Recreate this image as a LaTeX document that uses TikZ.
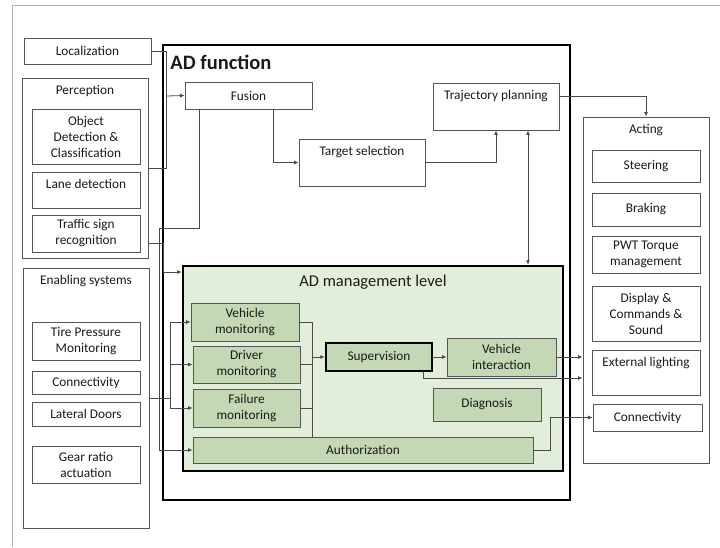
\documentclass[tikz,border=0pt]{standalone}
\usepackage{fontspec}
\setmainfont{Carlito}
\usepackage{tikz}
\usetikzlibrary{positioning}
\usetikzlibrary{calc,arrows.meta}
\definecolor{frame}{HTML}{B4B4B4}
\definecolor{edge}{HTML}{555555}
\definecolor{wire}{HTML}{4A4A4A}
\definecolor{mgmtbg}{HTML}{E2EEDA}
\definecolor{mgmtbox}{HTML}{C5D8B5}
\definecolor{ink}{HTML}{1A1A1A}
\tikzset{
  every node/.style={font=\fontsize{13.3}{16}\selectfont, text=ink},
  box/.style={shape=rectangle, draw=edge, line width=0.8pt, fill=white, align=center, inner sep=1pt},
  grp/.style={box, line width=0.9pt},
  gbox/.style={box, fill=mgmtbox, draw=edge},
  top/.style={label={[anchor=north, yshift=-4.5pt, align=center]north:#1}},
  line/.style={draw=wire, line width=0.8pt},
  arr/.style={line, -{Latex[length=4.5pt,width=4pt]}},
  arr2/.style={line, {Latex[length=4.5pt,width=4pt]}-{Latex[length=4.5pt,width=4pt]}}
}
\begin{document}
\begin{tikzpicture}[x=1pt,y=-1pt]
\useasboundingbox (0,0) rectangle (720,547);
\draw [frame, line width=1pt] (12,547) -- (12,5) -- (720,5);
\path
(366.5,272.5) node [shape=rectangle, draw=black, line width=1.6pt, minimum width=407, minimum height=455,
  label={[anchor=north west, xshift=6pt, yshift=-9pt, inner sep=2pt, font=\bfseries\fontsize{20.5}{24}\selectfont]north west:AD function}] (adf) {}
(87.5,51) node [box, minimum width=127, minimum height=26] (loc) {Localization}
(85,168) node [grp, minimum width=126, minimum height=180, top=Perception] (perc) {}
(86,136.5) node [box, minimum width=108, minimum height=55] (obj) {Object\\Detection \&\\Classification}
(86,190) node [box, minimum width=108, minimum height=36, top=Lane detection] (lane) {}
(86,233.5) node [box, minimum width=108, minimum height=37] (tsr) {Traffic sign\\recognition}
(86,398) node [grp, minimum width=126, minimum height=260, top=Enabling systems] (enab) {}
(86,341) node [box, minimum width=108, minimum height=38] (tire) {Tire Pressure\\Monitoring}
(86,382.5) node [box, minimum width=108, minimum height=23] (con1) {Connectivity}
(86,414) node [box, minimum width=108, minimum height=24] (door) {Lateral Doors}
(86,464.5) node [box, minimum width=108, minimum height=37] (gear) {Gear ratio\\actuation}
(248.5,95.5) node [box, minimum width=127, minimum height=27] (fus) {Fusion}
(362,162.5) node [box, minimum width=126, minimum height=47, top=Target selection] (tgt) {}
(496,106.5) node [box, minimum width=126, minimum height=47, top=Trajectory planning] (traj) {}
(646,290) node [grp, minimum width=126, minimum height=346, top=Acting] (act) {}
(646,166) node [box, minimum width=108, minimum height=32] (steer) {Steering}
(646,209.5) node [box, minimum width=108, minimum height=33] (brake) {Braking}
(646,254.5) node [box, minimum width=108, minimum height=37] (pwt) {PWT Torque\\management}
(646,313.5) node [box, minimum width=108, minimum height=55] (disp) {Display \&\\Commands \&\\Sound}
(646,372.5) node [box, minimum width=108, minimum height=45, top=External lighting] (light) {}
(647.5,417.5) node [box, minimum width=109, minimum height=27] (con2) {Connectivity};
\path
(373,368.5) node [shape=rectangle, draw=black, line width=2.4pt, fill=mgmtbg, minimum width=380, minimum height=205,
  label={[anchor=north, yshift=-7pt, font=\fontsize{16.5}{19}\selectfont]north:AD management level}] (mgmt) {}
(245,322) node [gbox, minimum width=108, minimum height=38] (vm) {Vehicle\\monitoring}
(246.5,364.5) node [gbox, minimum width=107, minimum height=37] (dm) {Driver\\monitoring}
(246.5,408) node [gbox, minimum width=107, minimum height=38] (fm) {Failure\\monitoring}
(363,450) node [gbox, minimum width=340, minimum height=26] (auth) {Authorization}
(379,357) node [gbox, draw=black, line width=2.4pt, minimum width=106, minimum height=28] (sup) {Supervision}
(501.5,357) node [gbox, minimum width=109, minimum height=38] (vi) {Vehicle\\interaction}
(487,404.5) node [gbox, minimum width=108, minimum height=33] (diag) {Diagnosis};
% inputs to fusion
\coordinate (j1) at (166,96);
\draw [line](loc.east) -| (j1);
\draw [line](perc.east) -| (j1);
\draw [arr](j1) -- (fus.west);
% traffic sign and fusion down to management
\coordinate (j2) at (163,243);
\coordinate (j3) at (163,272);
\draw [line](perc.east |- j2) -- (j2) -- (j3);
\draw [arr](j3) -- (j3 -| mgmt.west);
\coordinate (j4) at (199,228);
\coordinate (j5) at (159,450);
\draw [line](fus.south -| j4) -- (j4) -| (j5);
\draw [arr](j5) -- (auth.west);
% planning chain
\draw [arr]([xshift=24.5pt]fus.south) |- (tgt.west);
\draw [arr](tgt.east) -| (traj.south);
\coordinate (tp) at ([xshift=32pt]traj.south);
\draw [arr2](tp) -- (tp |- mgmt.north);
\draw [arr]([yshift=10.5pt]traj.east) -| (act.north);
% enabling systems to monitors
\coordinate (e1) at (170,398);
\draw [line](enab.east |- e1) -- (e1);
\draw [arr](e1) |- (vm.west);
\draw [arr](e1) |- (dm.west);
\draw [arr](e1) |- (fm.west);
% monitors to supervision
\coordinate (m1) at (312,357);
\draw [line](vm.east) -| (auth.north -| m1);
\draw [line](dm.east) -- (dm.east -| m1);
\draw [line](fm.east) -- (fm.east -| m1);
\draw [arr](m1) -- (sup.west);
% outputs to acting
\draw [arr](sup.east) -- (vi.west);
\draw [arr](vi.east) -- (vi.east -| act.west);
\coordinate (s1) at (423,378);
\draw [arr](sup.south -| s1) -- (s1) -- (s1 -| act.west);
\coordinate (a1) at (550,450);
\draw [arr](auth.east) -- (a1) |- (con2.west);
\end{tikzpicture}
\end{document}
